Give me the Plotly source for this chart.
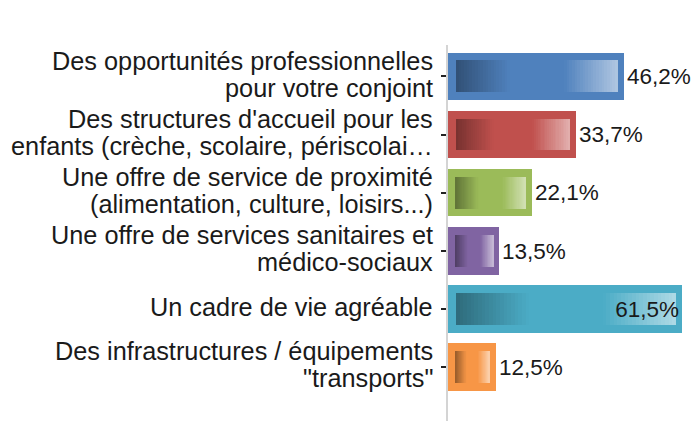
import plotly.graph_objects as go

# ---- data ----
label_lines = [
    ["Des opportunités professionnelles", "pour votre conjoint"],
    ["Des structures d'accueil pour les", "enfants (crèche, scolaire, périscolai…"],
    ["Une offre de service de proximité", "(alimentation, culture, loisirs...)"],
    ["Une offre de services sanitaires et", "médico-sociaux"],
    ["Un cadre de vie agréable"],
    ["Des infrastructures / équipements", "\"transports\""],
]
values = [46.2, 33.7, 22.1, 13.5, 61.5, 12.5]
value_labels = ["46,2%", "33,7%", "22,1%", "13,5%", "61,5%", "12,5%"]
base_colors = ["#4F81BD", "#C0504D", "#9BBB59", "#8064A2", "#4BACC6", "#F79646"]

FONT = "Liberation Sans, Arial, sans-serif"
TXT = "#1a1a1a"
X_MAX = 64.65
ypos = list(range(len(values)))


def hex2rgb(h):
    h = h.lstrip("#")
    return tuple(int(h[i:i + 2], 16) for i in (0, 2, 4))


def mix(c1, c2, t):
    return tuple(c1[k] + (c2[k] - c1[k]) * t for k in range(3))


def rgb(c):
    return "rgb(%d,%d,%d)" % tuple(round(v) for v in c)


fig = go.Figure()

# outer bars (solid)
fig.add_trace(go.Bar(
    y=ypos, x=values, orientation="h", width=0.82,
    marker=dict(color=base_colors, line=dict(width=0)),
    hoverinfo="skip", showlegend=False,
))

# inner gradient (drawn as thin segments)
N = 60
left_in, right_in = 2.1, 1.6
starts = [left_in for v in values]
lengths = [v - left_in - right_in for v in values]
for i in range(N):
    t = (i + 0.5) / N
    cols = []
    for bc in base_colors:
        b = hex2rgb(bc)
        dark = tuple(v * 0.62 for v in b)
        light = mix(b, (255, 255, 255), 0.55)
        if t < 1 / 3:
            c = mix(dark, b, t * 3)
        elif t < 2 / 3:
            c = b
        else:
            c = mix(b, light, (t - 2 / 3) * 3)
        cols.append(rgb(c))
    fig.add_trace(go.Bar(
        y=ypos,
        x=[L / N * 1.05 for L in lengths],
        base=[s + L * i / N for s, L in zip(starts, lengths)],
        orientation="h", width=0.55,
        marker=dict(color=cols, line=dict(width=0)),
        hoverinfo="skip", showlegend=False,
    ))

# value labels
positions = ["inside" if v == max(values) else "outside" for v in values]
fig.add_trace(go.Bar(
    y=ypos, x=values, orientation="h", width=0.82,
    marker=dict(color="rgba(0,0,0,0)", line=dict(width=0)),
    text=value_labels, textposition=positions,
    insidetextanchor="end", constraintext="none", cliponaxis=False,
    textfont=dict(family=FONT, size=22.5, color=TXT),
    insidetextfont=dict(family=FONT, size=22.5, color=TXT),
    outsidetextfont=dict(family=FONT, size=22.5, color=TXT),
    hoverinfo="skip", showlegend=False,
))

# category labels
annotations = []
for i, lines in enumerate(label_lines):
    n = len(lines)
    for j, line in enumerate(lines):
        shift = (n - 1) / 2 * 27 - j * 27 + 2
        annotations.append(dict(
            x=0, xref="paper", y=i, yref="y", text=line, showarrow=False,
            xanchor="right", yanchor="middle", xshift=-13, yshift=shift,
            font=dict(family=FONT, size=25.3, color=TXT),
        ))

fig.update_layout(
    width=694, height=423,
    margin=dict(l=448, r=0, t=45, b=2, autoexpand=False),
    paper_bgcolor="white", plot_bgcolor="white",
    barmode="overlay", bargap=0,
    annotations=annotations,
    xaxis=dict(range=[0, X_MAX], visible=False, fixedrange=True),
    yaxis=dict(
        range=[5.93, -0.54], tickvals=ypos, showticklabels=False,
        ticks="outside", ticklen=5, tickwidth=1.5, tickcolor="#222",
        showline=True, linecolor="#d4d4d4", linewidth=2,
        showgrid=False, zeroline=False, fixedrange=True,
    ),
)

fig.write_html(
    "out.html",
    config={"displayModeBar": False},
    post_script="document.body.style.margin='0';document.body.style.overflow='hidden';",
)
